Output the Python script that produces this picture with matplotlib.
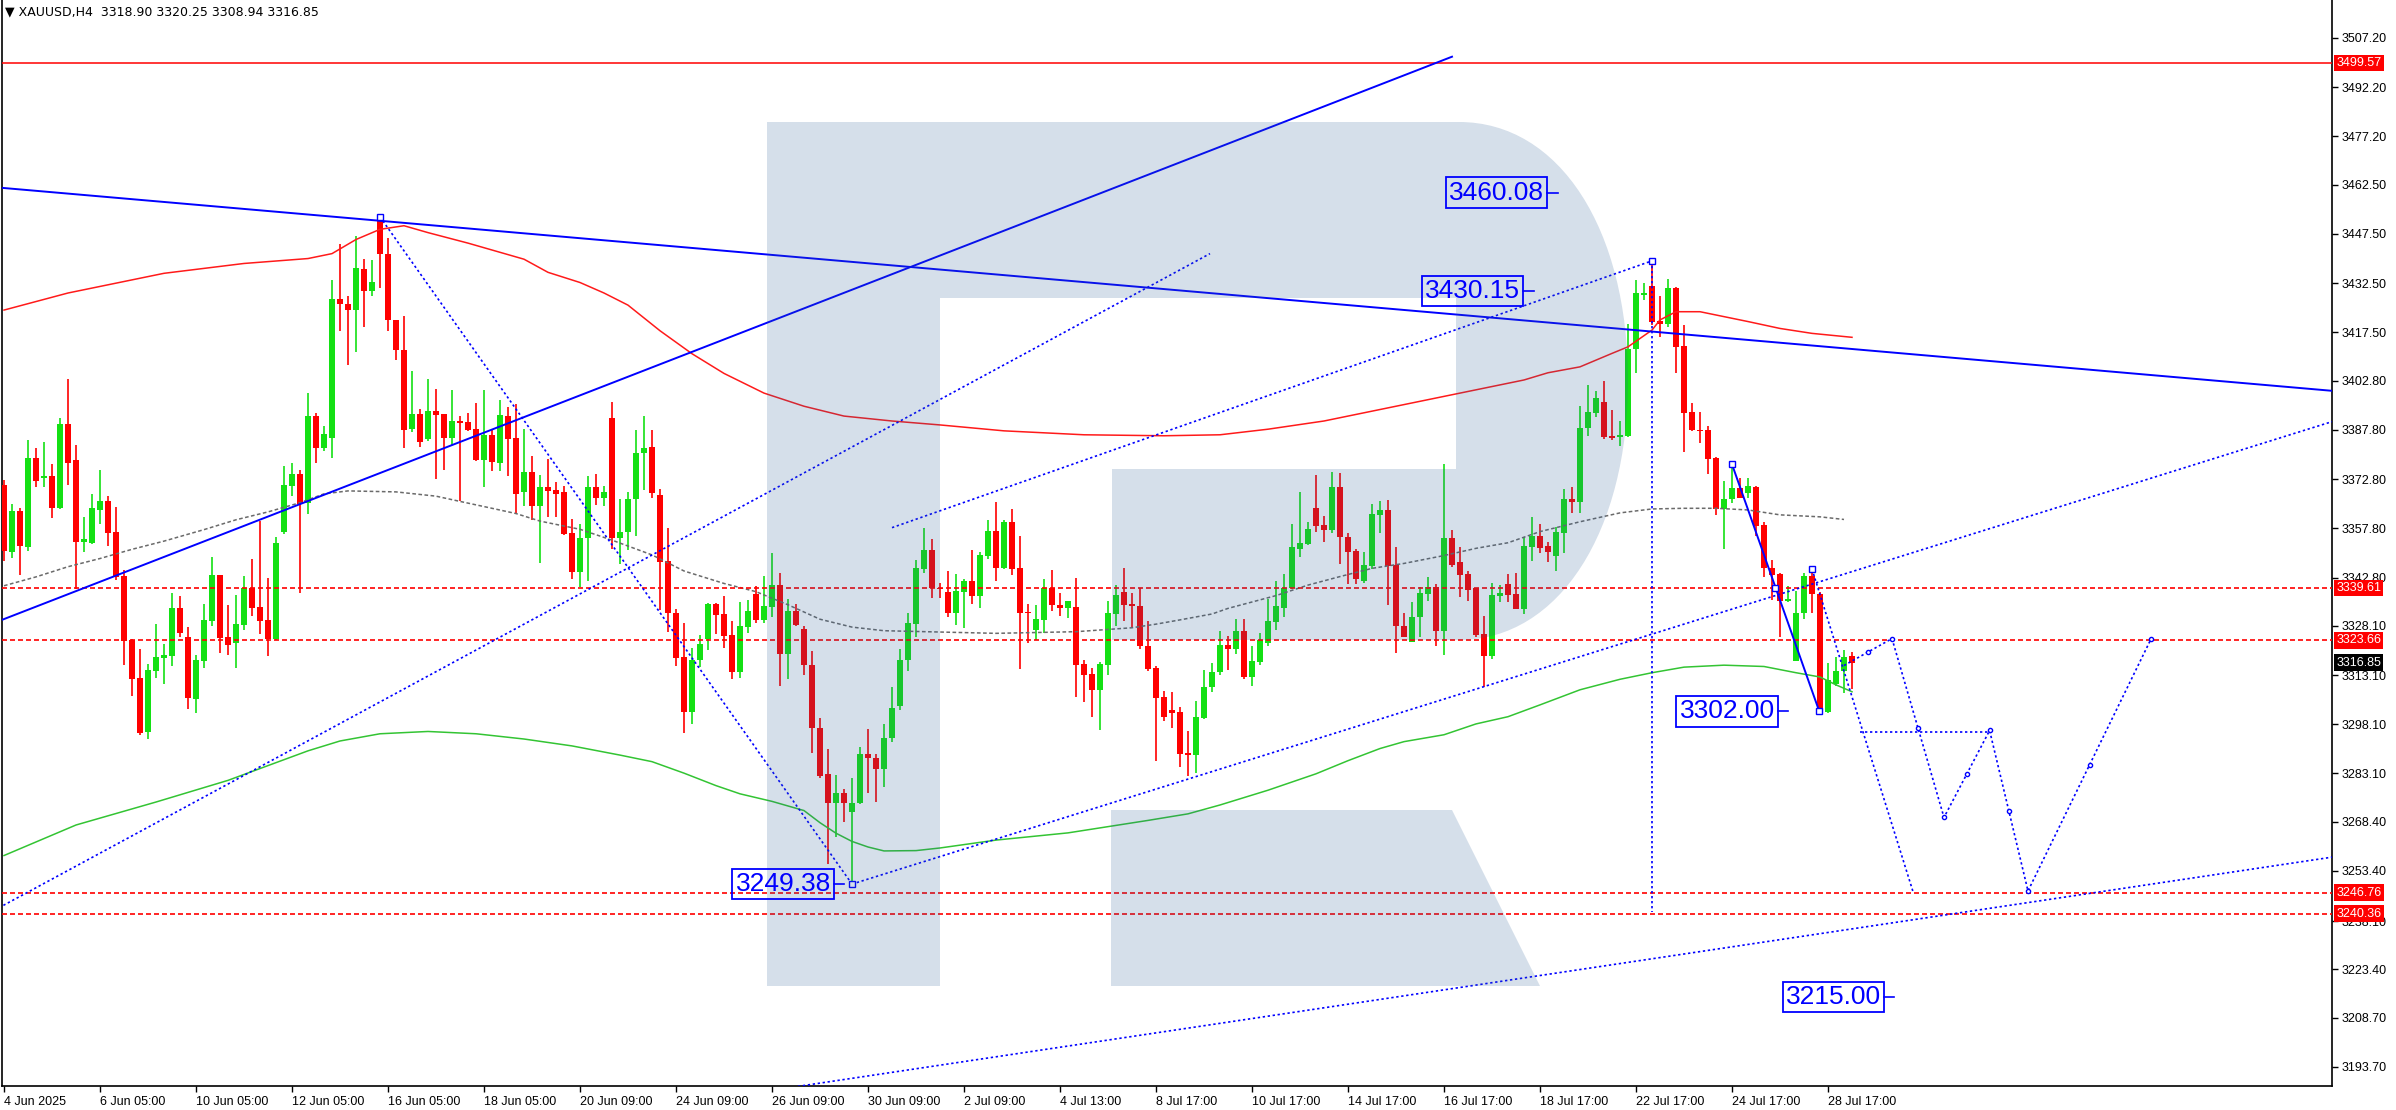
import matplotlib
matplotlib.use("Agg")
import matplotlib.pyplot as plt
from matplotlib.path import Path
from matplotlib.patches import PathPatch, Polygon
import numpy as np

plt.rcParams['font.family'] = ['Liberation Sans', 'DejaVu Sans']

# ---- data (XAUUSD H4) ----
symbol = "XAUUSD,H4"
last_ohlc = [3318.90, 3320.25, 3308.94, 3316.85]

opens = [3371.0, 3350.6, 3363.0, 3352.2, 3379.3, 3373.2, 3373.7, 3364.1, 3389.6, 3378.6,
         3353.7, 3353.4, 3363.4, 3366.1, 3356.7, 3343.2, 3323.7, 3312.1, 3295.8, 3314.4,
         3318.4, 3319.0, 3333.6, 3324.7, 3305.8, 3317.4, 3329.6, 3343.5, 3324.6, 3322.9,
         3328.3, 3339.5, 3333.8, 3329.8, 3324.1, 3356.7, 3370.8, 3374.3, 3365.4, 3392.0,
         3382.3, 3385.4, 3427.6, 3426.0, 3424.3, 3436.9, 3430.2, 3451.5, 3441.4, 3421.4,
         3412.0, 3388.1, 3392.6, 3385.1, 3393.4, 3392.7, 3385.4, 3390.5, 3390.2, 3388.0,
         3378.6, 3386.2, 3377.8, 3392.0, 3385.4, 3368.9, 3374.9, 3364.5, 3370.4, 3369.5,
         3368.8, 3356.4, 3344.5, 3355.0, 3370.4, 3367.1, 3391.4, 3355.0, 3356.6, 3366.6,
         3380.6, 3382.7, 3367.9, 3347.8, 3331.9, 3318.5, 3301.9, 3317.8, 3324.0, 3334.7,
         3331.7, 3325.3, 3314.1, 3327.8, 3337.8, 3329.8, 3333.9, 3340.5, 3319.5, 3332.6,
         3327.0, 3316.3, 3297.1, 3282.9, 3274.0, 3277.3, 3271.4, 3274.0, 3289.0, 3287.7,
         3284.6, 3293.8, 3303.7, 3317.8, 3328.5, 3345.5, 3351.2, 3339.7, 3338.3, 3332.1,
         3338.5, 3341.8, 3337.3, 3349.5, 3357.0, 3345.8, 3359.6, 3345.8, 3332.3, 3326.8,
         3329.9, 3339.5, 3334.5, 3333.6, 3333.8, 3316.5, 3313.4, 3308.6, 3316.2, 3331.7,
         3338.3, 3334.8, 3334.2, 3322.0, 3315.2, 3306.5, 3302.5, 3301.9, 3289.4, 3288.7,
         3300.1, 3309.3, 3314.1, 3322.3, 3320.9, 3326.5, 3312.6, 3317.2, 3323.0, 3329.4,
         3333.6, 3339.5, 3351.6, 3353.1, 3364.1, 3358.8, 3357.3, 3370.5, 3355.1, 3351.0,
         3341.6, 3346.4, 3361.9, 3363.4, 3346.6, 3328.1, 3323.3, 3330.9, 3337.8, 3339.8,
         3326.6, 3354.8, 3347.5, 3343.8, 3339.5, 3325.6, 3319.0, 3337.3, 3340.9, 3337.8,
         3333.2, 3352.2, 3355.5, 3352.4, 3349.5, 3356.4, 3366.6, 3365.9, 3388.4, 3392.8,
         3396.2, 3385.9, 3385.5, 3385.9, 3412.3, 3428.9, 3431.6, 3421.0, 3420.2, 3430.9,
         3413.3, 3393.1, 3387.9, 3387.7, 3379.3, 3363.6, 3366.6, 3370.0, 3368.6, 3370.5,
         3358.8, 3345.6, 3343.8, 3335.7, 3317.4, 3331.9, 3343.2, 3337.7, 3301.9, 3310.3,
         3314.4, 3318.90]
highs = [3372.5, 3365.2, 3363.9, 3384.7, 3382.2, 3384.1, 3377.4, 3391.3, 3403.3, 3383.2,
         3361.3, 3368.4, 3375.5, 3367.7, 3364.3, 3345.1, 3324.0, 3321.0, 3316.4, 3328.6,
         3322.5, 3338.2, 3337.1, 3327.8, 3319.2, 3334.7, 3349.0, 3343.5, 3334.4, 3337.4,
         3343.2, 3348.4, 3360.1, 3342.6, 3355.1, 3376.8, 3377.7, 3375.5, 3399.1, 3393.0,
         3389.1, 3433.4, 3444.4, 3428.5, 3446.8, 3439.8, 3439.5, 3453.1, 3446.3, 3421.4,
         3422.5, 3405.6, 3394.1, 3403.3, 3400.3, 3392.7, 3399.9, 3391.9, 3393.0, 3395.9,
         3399.9, 3388.1, 3396.8, 3394.9, 3395.6, 3388.1, 3379.7, 3373.9, 3379.0, 3371.8,
         3370.7, 3360.5, 3359.2, 3373.7, 3374.2, 3370.7, 3396.4, 3366.6, 3368.9, 3387.8,
         3392.0, 3387.8, 3369.7, 3357.8, 3333.1, 3329.0, 3321.2, 3325.3, 3334.9, 3335.1,
         3337.2, 3329.5, 3335.4, 3336.1, 3340.3, 3343.4, 3350.2, 3344.1, 3336.4, 3334.7,
         3328.0, 3320.4, 3299.9, 3290.7, 3282.6, 3278.5, 3281.6, 3291.2, 3296.5, 3288.9,
         3298.3, 3309.5, 3320.9, 3332.1, 3348.1, 3357.8, 3354.5, 3341.1, 3344.8, 3343.9,
         3342.4, 3351.2, 3350.7, 3360.2, 3365.9, 3360.4, 3363.7, 3355.5, 3334.8, 3334.5,
         3342.4, 3345.1, 3338.0, 3335.7, 3342.8, 3317.7, 3315.2, 3317.2, 3335.7, 3340.6,
         3345.8, 3338.0, 3339.5, 3329.7, 3315.7, 3308.3, 3308.0, 3303.3, 3296.1, 3305.2,
         3314.6, 3316.7, 3326.5, 3325.0, 3330.1, 3330.1, 3321.8, 3326.0, 3336.3, 3341.8,
         3343.9, 3359.1, 3368.8, 3359.7, 3374.1, 3361.6, 3374.9, 3374.8, 3356.5, 3351.4,
         3350.7, 3365.2, 3366.0, 3366.5, 3352.2, 3332.1, 3335.2, 3340.0, 3343.1, 3340.9,
         3377.4, 3357.3, 3352.0, 3344.8, 3339.7, 3331.1, 3341.1, 3340.6, 3343.9, 3344.1,
         3355.1, 3361.2, 3359.1, 3353.5, 3358.3, 3369.7, 3370.5, 3395.0, 3401.5, 3399.6,
         3402.7, 3393.8, 3390.5, 3420.0, 3433.5, 3432.6, 3439.0, 3428.6, 3433.7, 3431.4,
         3419.7, 3395.9, 3393.1, 3389.0, 3379.6, 3372.2, 3376.8, 3373.2, 3373.2, 3370.7,
         3359.8, 3348.1, 3344.3, 3340.2, 3338.8, 3344.3, 3345.6, 3338.5, 3316.9, 3318.6,
         3320.7, 3320.25]
lows = [3347.9, 3348.8, 3343.5, 3350.9, 3370.5, 3370.5, 3361.0, 3363.6, 3371.1, 3339.2,
        3350.5, 3352.9, 3359.2, 3352.5, 3342.2, 3316.1, 3306.8, 3294.8, 3293.5, 3312.3,
        3310.5, 3315.9, 3324.8, 3302.7, 3301.6, 3315.3, 3328.1, 3319.9, 3319.2, 3315.3,
        3326.8, 3331.1, 3325.5, 3318.9, 3323.7, 3356.2, 3367.7, 3338.2, 3362.1, 3377.8,
        3381.5, 3379.3, 3417.8, 3407.7, 3411.5, 3419.0, 3428.5, 3431.1, 3417.8, 3409.0,
        3382.4, 3387.2, 3382.7, 3384.4, 3372.8, 3375.7, 3383.1, 3366.0, 3387.5, 3378.4,
        3370.5, 3375.3, 3375.3, 3373.6, 3362.3, 3364.5, 3360.3, 3347.3, 3361.3, 3361.3,
        3355.7, 3342.4, 3340.0, 3341.6, 3364.8, 3364.5, 3351.6, 3346.8, 3351.3, 3355.4,
        3369.5, 3367.1, 3332.9, 3326.3, 3315.9, 3295.3, 3298.3, 3315.6, 3320.7, 3325.6,
        3321.4, 3311.8, 3312.1, 3326.0, 3329.0, 3329.0, 3330.9, 3309.8, 3311.8, 3328.0,
        3313.1, 3289.2, 3281.6, 3255.5, 3263.8, 3268.4, 3249.4, 3273.8, 3277.2, 3274.5,
        3279.0, 3292.8, 3302.4, 3314.4, 3324.8, 3344.3, 3336.7, 3336.7, 3330.9, 3328.4,
        3327.5, 3334.8, 3333.6, 3348.4, 3341.9, 3345.3, 3343.6, 3315.0, 3323.0, 3323.8,
        3325.8, 3332.6, 3331.1, 3330.6, 3306.5, 3305.0, 3300.4, 3296.2, 3313.1, 3328.1,
        3329.7, 3327.3, 3321.0, 3314.4, 3287.0, 3299.2, 3297.1, 3285.0, 3282.4, 3283.2,
        3299.6, 3308.0, 3313.1, 3314.6, 3319.5, 3311.8, 3309.9, 3316.2, 3321.8, 3326.8,
        3330.9, 3339.2, 3349.2, 3352.7, 3356.8, 3353.5, 3356.5, 3347.0, 3340.9, 3340.9,
        3341.1, 3345.3, 3356.5, 3334.3, 3319.9, 3324.6, 3323.1, 3324.8, 3335.8, 3321.8,
        3319.2, 3345.9, 3337.0, 3335.7, 3324.6, 3309.6, 3318.0, 3335.5, 3335.2, 3333.2,
        3331.6, 3347.7, 3350.4, 3347.4, 3344.9, 3350.3, 3362.5, 3362.5, 3386.0, 3391.8,
        3385.0, 3384.7, 3383.0, 3385.7, 3405.0, 3427.4, 3419.7, 3416.0, 3419.2, 3405.2,
        3381.1, 3387.4, 3383.9, 3374.5, 3361.8, 3351.4, 3365.6, 3366.9, 3366.9, 3355.4,
        3343.0, 3335.9, 3324.7, 3335.4, 3317.4, 3330.3, 3332.1, 3302.1, 3301.6, 3309.7,
        3307.7, 3308.94]
closes = [3350.9, 3363.0, 3352.5, 3379.3, 3372.3, 3373.7, 3364.1, 3389.6, 3377.8, 3353.7,
          3354.5, 3364.0, 3366.1, 3356.5, 3343.0, 3323.5, 3311.8, 3295.5, 3314.6, 3318.6,
          3319.2, 3333.6, 3326.0, 3306.2, 3317.6, 3329.8, 3343.5, 3324.4, 3322.2, 3328.6,
          3339.5, 3333.6, 3329.6, 3324.1, 3353.4, 3371.0, 3374.3, 3365.2, 3392.0, 3382.4,
          3386.5, 3427.6, 3426.0, 3424.3, 3437.1, 3430.2, 3432.9, 3441.3, 3421.4, 3412.0,
          3387.8, 3392.6, 3384.1, 3393.4, 3392.4, 3385.4, 3390.5, 3389.8, 3387.7, 3378.6,
          3386.2, 3378.1, 3392.3, 3385.1, 3368.3, 3374.9, 3364.5, 3370.4, 3369.2, 3368.3,
          3356.1, 3344.5, 3355.0, 3370.4, 3367.1, 3368.8, 3355.0, 3356.8, 3366.8, 3380.8,
          3382.3, 3368.7, 3347.6, 3331.9, 3318.4, 3301.9, 3317.8, 3322.7, 3334.7, 3331.4,
          3325.0, 3314.1, 3328.0, 3332.6, 3329.8, 3334.1, 3340.5, 3319.5, 3332.6, 3328.3,
          3316.1, 3297.0, 3282.3, 3274.0, 3277.3, 3274.0, 3274.0, 3289.0, 3287.7, 3284.6,
          3293.8, 3302.9, 3317.8, 3328.8, 3345.6, 3351.2, 3339.5, 3339.2, 3332.1, 3338.7,
          3341.8, 3337.3, 3349.7, 3357.0, 3345.8, 3359.6, 3345.5, 3332.1, 3332.1, 3330.2,
          3339.5, 3334.3, 3333.6, 3335.7, 3316.2, 3313.1, 3308.6, 3316.5, 3331.9, 3337.5,
          3334.5, 3334.0, 3321.8, 3315.0, 3306.2, 3300.4, 3301.6, 3289.0, 3288.7, 3300.4,
          3309.6, 3314.1, 3322.3, 3320.9, 3326.5, 3312.6, 3317.4, 3323.7, 3329.6, 3334.2,
          3339.5, 3352.2, 3353.3, 3357.6, 3358.5, 3357.3, 3370.5, 3355.3, 3350.7, 3342.4,
          3346.6, 3362.2, 3363.4, 3346.4, 3327.9, 3324.8, 3330.9, 3338.0, 3339.8, 3326.6,
          3354.8, 3346.6, 3343.6, 3339.0, 3325.3, 3319.0, 3337.5, 3338.0, 3337.5, 3333.2,
          3352.4, 3355.5, 3351.9, 3350.7, 3356.8, 3366.6, 3365.9, 3388.5, 3393.1, 3397.4,
          3385.7, 3385.4, 3386.2, 3412.4, 3429.4, 3429.6, 3420.8, 3420.2, 3430.9, 3413.1,
          3393.0, 3387.7, 3387.4, 3378.9, 3363.6, 3366.6, 3370.0, 3367.1, 3370.7, 3358.5,
          3345.6, 3343.5, 3335.7, 3336.4, 3331.9, 3343.2, 3337.7, 3302.4, 3311.5, 3314.4,
          3318.6, 3316.85]

date_ticks = [0, 12, 24, 36, 48, 60, 72, 84, 96, 108, 120, 132, 144, 156, 168, 180, 192, 204, 216, 228]
date_labels = ["4 Jun 2025", "6 Jun 05:00", "10 Jun 05:00", "12 Jun 05:00", "16 Jun 05:00",
               "18 Jun 05:00", "20 Jun 09:00", "24 Jun 09:00", "26 Jun 09:00", "30 Jun 09:00",
               "2 Jul 09:00", "4 Jul 13:00", "8 Jul 17:00", "10 Jul 17:00", "14 Jul 17:00",
               "16 Jul 17:00", "18 Jul 17:00", "22 Jul 17:00", "24 Jul 17:00", "28 Jul 17:00"]

price_ticks = [3507.20, 3492.20, 3477.20, 3462.50, 3447.50, 3432.50, 3417.50, 3402.80,
               3387.80, 3372.80, 3357.80, 3342.80, 3328.10, 3313.10, 3298.10, 3283.10,
               3268.40, 3253.40, 3238.10, 3223.40, 3208.70, 3193.70]

# moving averages (bar index, value)
red_ma_x = [0, 8, 20, 30, 38, 41, 44, 47, 50, 53, 58, 65, 68, 72, 75, 78, 82, 86, 90, 95,
            100, 105, 111, 117, 125, 135, 145, 152, 158, 165, 172, 180, 186, 190, 193, 197,
            201, 203, 206, 207, 209, 212, 218, 222, 226, 231]
red_ma_y = [3424.3, 3429.5, 3435.5, 3438.5, 3440.0, 3441.5, 3445.8, 3448.9, 3450.0, 3447.9,
            3444.7, 3439.8, 3435.8, 3432.7, 3429.5, 3425.8, 3418.0, 3411.0, 3405.0, 3399.0,
            3395.0, 3392.0, 3390.5, 3389.3, 3387.5, 3386.3, 3386.0, 3386.3, 3388.0, 3390.5,
            3394.0, 3398.0, 3401.0, 3403.0, 3405.2, 3407.0, 3411.1, 3413.1, 3418.2, 3421.3,
            3423.8, 3423.8, 3420.8, 3418.7, 3417.2, 3416.0]
gray_ma_x = [0, 4, 8, 12, 16, 20, 25, 29, 33, 37, 40, 43, 49, 54, 57, 61, 64, 67, 72, 76,
             81, 85, 90, 94, 98, 102, 106, 110, 117, 124, 134, 141, 144, 147, 151, 153, 159,
             163, 167, 171, 175, 180, 184, 188, 192, 197, 202, 206, 210, 214, 218, 222, 227, 230]
gray_ma_y = [3340.3, 3343.0, 3346.1, 3348.6, 3351.4, 3353.9, 3357.4, 3360.4, 3362.8, 3365.6,
             3368.3, 3369.2, 3368.9, 3367.6, 3366.0, 3363.9, 3362.3, 3360.0, 3357.5, 3354.2,
             3349.7, 3344.8, 3341.0, 3338.5, 3334.5, 3330.1, 3327.7, 3326.6, 3326.2, 3325.8,
             3326.3, 3327.5, 3328.6, 3329.9, 3331.7, 3333.4, 3337.3, 3340.5, 3343.1, 3345.6,
             3347.1, 3349.5, 3351.7, 3353.4, 3356.8, 3359.8, 3362.5, 3363.7, 3363.9, 3363.9,
             3363.4, 3361.9, 3361.3, 3360.5]
green_ma_x = [0, 9, 19, 28, 38, 42, 47, 53, 59, 65, 71, 77, 81, 85, 89, 92, 96, 100, 102, 104,
              106, 108, 110, 114, 117, 124, 133, 143, 148, 152, 158, 164, 168, 172, 175, 180,
              184, 188, 192, 197, 202, 206, 210, 215, 220, 224, 227, 229, 231]
green_ma_y = [3258.1, 3267.4, 3274.4, 3281.0, 3290.0, 3293.0, 3295.2, 3295.9, 3295.2, 3293.6,
              3291.5, 3288.7, 3286.7, 3283.2, 3279.4, 3276.9, 3274.6, 3271.8, 3268.1, 3264.9,
              3262.4, 3260.7, 3259.5, 3259.6, 3260.4, 3262.8, 3265.0, 3268.8, 3270.8, 3273.5,
              3278.0, 3283.0, 3287.0, 3290.7, 3292.8, 3294.9, 3298.2, 3300.4, 3304.0, 3308.6,
              3311.8, 3313.8, 3315.5, 3316.1, 3315.7, 3313.8, 3312.5, 3310.1, 3308.0]

resistance_level = 3499.57
dashed_levels = [3339.61, 3323.66, 3246.76, 3240.36]

# drawn objects: (x0, y0, x1, y1)
solid_trendlines = [(-1, 3461.7, 291, 3399.7), (-1, 3329.2, 181, 3501.5), (216, 3377.3, 226.9, 3302.1)]
dotted_trendlines = [(47, 3452.7, 106, 3249.4), (106, 3249.4, 291, 3390.3), (111, 3358.0, 206, 3439.3),
                     (-1, 3241.7, 150.75, 3441.5), (98, 3187.3, 291, 3257.6), (206, 3439.3, 206, 3241.0),
                     (226, 3345.4, 238.6, 3247.3), (232, 3295.7, 248, 3295.7)]
forecast_x = [230, 236, 242.5, 248.2, 253, 268.4]
forecast_y = [3316.0, 3324.2, 3269.7, 3296.2, 3247.3, 3324.2]

price_labels = ["3460.08", "3430.15", "3302.00", "3249.38", "3215.00"]
price_label_x = [186.6, 183.6, 215.4, 97.4, 228.7]
price_label_y = [3460.08, 3430.15, 3302.00, 3249.38, 3215.00]

BLUE = "#0000ff"
UP = "#14e014"
DOWN = "#ff0000"

# pixel geometry of the MT4 chart window
W, H = 2396, 1110
X_LEFT, X_RIGHT, Y_BOTTOM = 2, 2332, 1086


def px(x, y):
    """screen pixel -> (bar index, price)"""
    return (x - 4) / 8.0, 3507.2 - (y - 38) * 0.3047


fig = plt.figure(figsize=(W / 100, H / 100), dpi=100)
ax = fig.add_axes([X_LEFT / W, (H - Y_BOTTOM) / H, (X_RIGHT - X_LEFT) / W, Y_BOTTOM / H])
x0, y_top = px(X_LEFT, 0)
x1, y_bot = px(X_RIGHT, Y_BOTTOM)
ax.set_xlim(x0, x1)
ax.set_ylim(y_bot, y_top)

# candles
idx = np.arange(len(closes))
o = np.array(opens); c = np.array(closes)
hi = np.array(highs); lo = np.array(lows)
cols = np.where(c >= o, UP, DOWN)
ax.vlines(idx, lo, hi, colors=cols, lw=1.2, zorder=3)
body_h = np.maximum(np.abs(c - o), 0.35)
ax.bar(idx, body_h, bottom=np.minimum(o, c), width=0.64, color=cols, lw=0, zorder=3)

# indicators
ax.plot(red_ma_x, red_ma_y, color="#ff1a1a", lw=1.1, zorder=4)
ax.plot(gray_ma_x, gray_ma_y, color="#6a6a6a", lw=1.1, ls=(0, (2.4, 1.6)), zorder=4)
ax.plot(green_ma_x, green_ma_y, color="#33c433", lw=1.1, zorder=4)

# horizontal levels
ax.axhline(resistance_level, color=DOWN, lw=1.1, zorder=4)
for lv in dashed_levels:
    ax.axhline(lv, color=DOWN, lw=1.2, ls=(0, (3, 1.8)), zorder=4)

# trend lines
for (xa, ya, xb, yb) in solid_trendlines:
    ax.plot([xa, xb], [ya, yb], color=BLUE, lw=1.4, zorder=5)
for (xa, ya, xb, yb) in dotted_trendlines:
    ax.plot([xa, xb], [ya, yb], color=BLUE, lw=1.2, ls=(0, (1.4, 1.6)), zorder=5)
ax.plot(forecast_x, forecast_y, color=BLUE, lw=1.2, ls=(0, (1.4, 1.6)), zorder=5)

# anchor markers
mk = dict(marker="s", ms=4, mfc="white", mec=BLUE, mew=1, ls="none", zorder=6)
ax.plot([47, 106, 206, 216, 221.4, 226.9, 226], [3452.7, 3249.4, 3439.3, 3377.3, 3339.5, 3302.1, 3345.4], **mk)
fx = np.array(forecast_x); fy = np.array(forecast_y)
ax.plot(fx[1:], fy[1:], marker="o", ms=3, mfc="white", mec=BLUE, mew=1, ls="none", zorder=6)
ax.plot((fx[1:] + fx[:-1]) / 2, (fy[1:] + fy[:-1]) / 2, marker="o", ms=3, mfc="white",
        mec=BLUE, mew=1, ls="none", zorder=6)

# watermark logo (semi-transparent overlay)
logo_col = (45 / 255, 95 / 255, 150 / 255)
pts = [(767, 122), (1459, 122), (1560, 122), (1628, 230), (1628, 381),
       (1628, 530), (1560, 640), (1459, 640), (1112, 640), (1112, 469),
       (1456, 469), (1456, 298), (940, 298), (940, 986), (767, 986), (767, 122)]
codes = [Path.MOVETO, Path.LINETO, Path.CURVE4, Path.CURVE4, Path.CURVE4,
         Path.CURVE4, Path.CURVE4, Path.CURVE4, Path.LINETO, Path.LINETO,
         Path.LINETO, Path.LINETO, Path.LINETO, Path.LINETO, Path.LINETO, Path.CLOSEPOLY]
ax.add_patch(PathPatch(Path([px(*p) for p in pts], codes), fc=logo_col, ec="none", alpha=0.2, zorder=7))
leg = [px(1111, 810), px(1452, 810), px(1540, 986), px(1111, 986)]
ax.add_patch(Polygon(leg, closed=True, fc=logo_col, ec="none", alpha=0.2, zorder=7))

# price labels on the chart
for txt, lx, ly in zip(price_labels, price_label_x, price_label_y):
    ax.text(lx, ly, txt, ha="center", va="center", fontsize=19, color=BLUE, zorder=8,
            bbox=dict(boxstyle="square,pad=0.12", fc="none", ec=BLUE, lw=1.3))
    ax.plot([lx + 6.3, lx + 7.6], [ly, ly], color=BLUE, lw=1.2, zorder=8)

# axes styling
ax.spines["top"].set_visible(False)
for s in ["left", "right", "bottom"]:
    ax.spines[s].set_color("black")
    ax.spines[s].set_linewidth(1.2)
ax.yaxis.tick_right()
ax.set_yticks(price_ticks)
ax.set_yticklabels([f"{v:.2f}" for v in price_ticks])
ax.tick_params(axis="y", direction="out", length=4, width=1, labelsize=9, pad=3)
ax.set_xticks(date_ticks)
ax.set_xticklabels(date_labels)
ax.tick_params(axis="x", direction="out", length=4, width=1, labelsize=9, pad=3)
for t in ax.get_xticklabels():
    t.set_horizontalalignment("left")

# price tags on the right scale
tags = [(resistance_level, DOWN)] + [(lv, DOWN) for lv in dashed_levels] + [(last_ohlc[3], "black")]
for val, col in tags:
    ax.annotate(f"{val:.2f}", xy=(1.0, val), xycoords=("axes fraction", "data"),
                xytext=(3, 0), textcoords="offset points", ha="left", va="center",
                fontsize=9, color="white", zorder=9, annotation_clip=False,
                bbox=dict(boxstyle="square,pad=0.18", fc=col, ec="none"))

# header
fig.text(5 / W, 1 - 12 / H, "\u25bc " + symbol + "  " + " ".join(f"{v:.2f}" for v in last_ohlc),
         ha="left", va="center", fontsize=9, color="black",
         family=["DejaVu Sans", "Liberation Sans"])

fig.savefig("out.png", dpi=100)
